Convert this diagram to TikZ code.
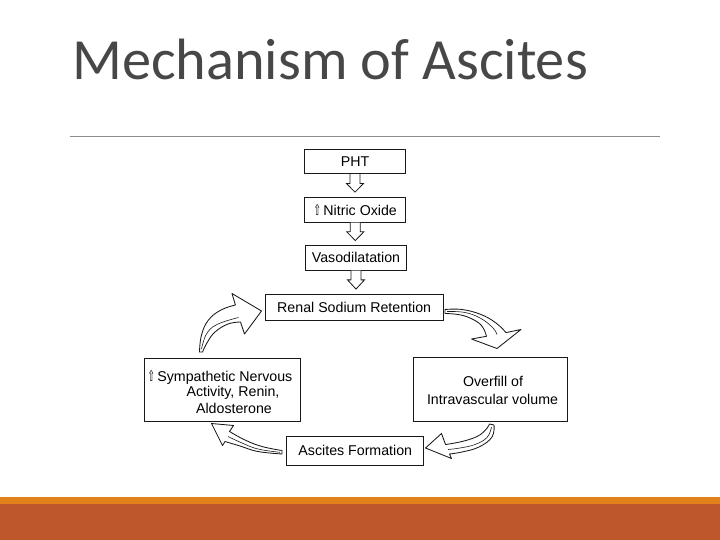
\documentclass[tikz,border=0pt]{standalone}
\usepackage{fontspec}
\usepackage{graphicx}
\setmainfont{Liberation Sans}
\newfontfamily\titlefont{Carlito}
\newfontfamily\symfont{DejaVu Sans}
\usetikzlibrary{calc}
\definecolor{barorange}{HTML}{E08219}
\definecolor{barrust}{HTML}{BE582C}
\definecolor{titlegray}{HTML}{474747}
\newcommand{\uparr}{{\symfont\scalebox{0.62}[1.05]{⇧}}}
\newcommand{\hdown}[2]{%
  \draw[harrow] let \p1=(#1.south), \p2=(#2.north) in
  (\x1-5pt,\y1) -- (\x1-5pt,\y1-9.3pt) -- (\x1-8.5pt,\y1-9.3pt) -- (\x1,\y2+4.7pt)
  -- (\x1+8.5pt,\y1-9.3pt) -- (\x1+5pt,\y1-9.3pt) -- (\x1+5pt,\y1);}
\begin{document}
\begin{tikzpicture}[x=1pt,y=-1pt,
  box/.style={draw=black!90, line width=1pt, inner sep=0pt, font=\fontsize{14.2}{16}\selectfont},
  harrow/.style={draw=black!90, line width=0.8pt, fill=white, line join=miter},
  barrow/.style={draw=black!90, line width=0.85pt, fill=white, line join=round},
  inner/.style={draw=black!90, line width=0.6pt},
  txt/.style={inner sep=0pt, font=\fontsize{14.2}{16}\selectfont, anchor=base}]
\useasboundingbox (0,0) rectangle (720,540);
\fill[white] (0,0) rectangle (720,540);
\fill[barorange] (0,497) rectangle (720,504);
\fill[barrust] (0,504) rectangle (720,540);
% title
\node[anchor=base west, inner sep=0pt, text=titlegray,
      font=\titlefont\fontsize{58.3}{60}\selectfont] (title) at (72,79.3) {Mechanism of Ascites};
\draw[black!45, line width=0.9pt] (70,136) coordinate (r1) -- (659.5,136) coordinate (r2);
% boxes
\node[box, minimum width=101.4pt, minimum height=24.4pt] (pht) at (355,161.5) {PHT};
\node[box, minimum width=101.3pt, minimum height=24.7pt] (no) at (355.3,209.7) {\uparr\,Nitric Oxide\hspace{6pt}};
\node[box, minimum width=101.4pt, minimum height=24.3pt] (vaso) at (356,257.9) {Vasodilatation};
\node[box, minimum width=178.3pt, minimum height=26pt] (renal) at (354.2,307.3) {Renal Sodium Retention};
\node[box, minimum width=155.6pt, minimum height=62.7pt] (symp) at (222.5,389.7) {};
\node[box, minimum width=154pt, minimum height=63.7pt] (over) at (490.3,389.2) {};
\node[box, minimum width=136.7pt, minimum height=29pt] (asc) at (355.3,450.5) {Ascites Formation};
% multi-line texts
\node[txt] (s1) at (220,381.7) {\uparr\,Sympathetic Nervous};
\node[txt] (s2) at (233,396) {Activity, Renin,};
\node[txt] (s3) at (234,413.3) {Aldosterone};
\node[txt] (o1) at (493,386.7) {Overfill of};
\node[txt] (o2) at (492.5,404) {Intravascular volume};
% hollow straight arrows
\hdown{pht}{no}
\hdown{no}{vaso}
\hdown{vaso}{renal}
% curved block arrows
% symp -> renal
\draw[barrow] plot[smooth, tension=0.7] coordinates {(199.5,352) (201.5,335) (208.5,320) (221,310) (235.4,305)}
  -- (232,293.5) -- (261.5,311) -- (244.5,334)
  -- plot[smooth, tension=0.7] coordinates {(240.5,322) (228,324) (215,332) (207.5,342) (202.5,352)} -- cycle;
\draw[inner] plot[smooth, tension=0.7] coordinates {(201.5,349) (206.5,334) (217,324.5) (238.5,317.5)};
% renal -> overfill
\draw[barrow] plot[smooth, tension=0.7] coordinates {(445,309.5) (462,309.5) (481,314.5) (496,323) (506,332.6)}
  -- (521,329.5) -- (497,348.5) -- (471.5,339)
  -- plot[smooth, tension=0.7] coordinates {(486.5,336.3) (481.5,325.5) (470,318) (458,314.5) (445,313.5)} -- cycle;
\draw[inner] plot[smooth, tension=0.7] coordinates {(447,311.5) (465,312.5) (481,318.5) (493,328) (497,334.5)};
% overfill -> ascites
\draw[barrow] plot[smooth, tension=0.7] coordinates {(494,425) (492,437) (479,447) (462,452) (449.5,454)}
  -- (451.5,458.5) -- (425.5,448) -- (441.5,433.5)
  -- plot[smooth, tension=0.7] coordinates {(445.5,444.5) (462,441.5) (477,436.5) (485.5,430) (489.5,424)} -- cycle;
\draw[inner] plot[smooth, tension=0.7] coordinates {(491.5,427) (487,437.5) (475,444.5) (460,448) (448,449.5)};
% ascites -> symp
\draw[barrow] plot[smooth, tension=0.7] coordinates {(282,450.5) (262,446.5) (245,440) (229.5,431.5)}
  -- (233.5,425.5) -- (211.5,423.5) -- (222.5,445.5)
  -- plot[smooth, tension=0.7] coordinates {(225,441.5) (240,446) (258,451.5) (282,454)} -- cycle;
\draw[inner] plot[smooth, tension=0.7] coordinates {(280,452.3) (258,449) (242,443) (228,436.5)};
\end{tikzpicture}
\end{document}
